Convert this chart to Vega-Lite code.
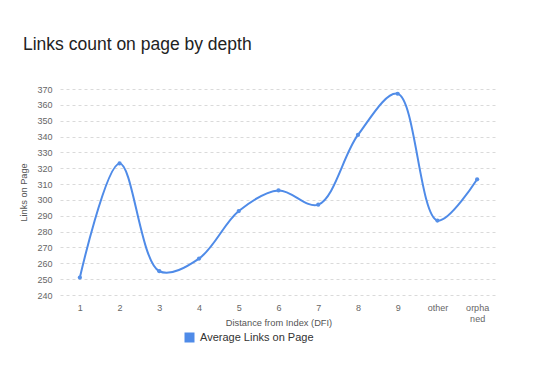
{
  "$schema": "https://vega.github.io/schema/vega-lite/v6.json",
  "width": 437,
  "height": 206,
  "autosize": {"type": "none"},
  "padding": {"left": 60, "top": 89, "right": 37, "bottom": 90},
  "background": "white",
  "title": {
    "text": "Links count on page by depth",
    "anchor": "start",
    "frame": "group",
    "dx": -37,
    "offset": 32,
    "font": "Liberation Sans",
    "fontSize": 17.5,
    "fontWeight": "normal",
    "color": "#222222"
  },
  "config": {
    "view": {"stroke": null},
    "font": "Liberation Sans"
  },
  "data": {
    "values": [
      {"dfi": "1", "links": 251},
      {"dfi": "2", "links": 323},
      {"dfi": "3", "links": 255},
      {"dfi": "4", "links": 263},
      {"dfi": "5", "links": 293},
      {"dfi": "6", "links": 306},
      {"dfi": "7", "links": 297},
      {"dfi": "8", "links": 341},
      {"dfi": "9", "links": 367},
      {"dfi": "other", "links": 287},
      {"dfi": "orphaned", "links": 313}
    ]
  },
  "encoding": {
    "x": {
      "field": "dfi",
      "type": "ordinal",
      "sort": null,
      "scale": {"type": "point", "padding": 0.5},
      "axis": {
        "title": "Distance from Index (DFI)",
        "titleFontSize": 9.3,
        "titleFontWeight": "normal",
        "titleColor": "#555555",
        "titleY": 27,
        "titleBaseline": "middle",
        "labelAngle": 0,
        "labelFontSize": 9,
        "labelColor": "#666666",
        "labelPadding": 8,
        "labelExpr": "datum.value == 'orphaned' ? ['orpha', 'ned'] : datum.value",
        "labelLineHeight": 11,
        "domain": false,
        "ticks": false,
        "grid": false
      }
    },
    "y": {
      "field": "links",
      "type": "quantitative",
      "scale": {"domain": [240, 370], "nice": false, "zero": false},
      "axis": {
        "title": "Links on Page",
        "titleFontSize": 9.2,
        "titleFontWeight": "normal",
        "titleColor": "#555555",
        "titlePadding": 8,
        "values": [240, 250, 260, 270, 280, 290, 300, 310, 320, 330, 340, 350, 360, 370],
        "labelFontSize": 9,
        "labelColor": "#666666",
        "labelPadding": 8,
        "domain": false,
        "ticks": false,
        "grid": true,
        "gridColor": "#dadada",
        "gridDash": [3, 3],
        "gridWidth": 1
      }
    }
  },
  "layer": [
    {
      "mark": {"type": "line", "interpolate": "catmull-rom", "strokeWidth": 2, "color": "#5690e8"},
      "encoding": {
        "color": {
          "datum": "Average Links on Page",
          "type": "nominal",
          "scale": {"range": ["#4f8be8"]},
          "legend": {
            "title": null,
            "orient": "none",
            "legendX": 124,
            "legendY": 243,
            "symbolType": "square",
            "symbolSize": 100,
            "symbolFillColor": "#4f8be8",
            "symbolStrokeColor": "#4f8be8",
            "symbolStrokeWidth": 0,
            "labelFontSize": 11,
            "labelColor": "#333333",
            "labelOffset": 5
          }
        }
      }
    },
    {
      "mark": {"type": "point", "filled": true, "size": 18, "color": "#5690e8", "opacity": 1}
    }
  ]
}
